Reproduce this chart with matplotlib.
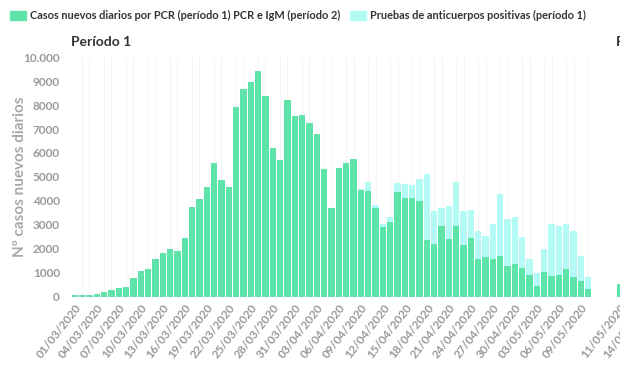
import matplotlib.pyplot as plt
import matplotlib.patches as mpatches
import datetime

plt.rcParams['font.family'] = ['Lato', 'DejaVu Sans']

# daily cases, period 1 (01/03/2020 .. 10/05/2020)
start = datetime.date(2020, 3, 1)
pcr_cases = [50, 50, 60, 100, 175, 270, 340, 410, 760, 1065,
             1150, 1580, 1820, 1970, 1915, 2460, 3730, 4090, 4590, 5570,
             4870, 4590, 7910, 8660, 8980, 9415, 8370, 6195, 5720, 8230,
             7545, 7600, 7250, 6780, 5330, 3700, 5370, 5595, 5735, 4465,
             4425, 3700, 2920, 3115, 4380, 4100, 4100, 4005, 2360, 2180,
             2960, 2390, 2960, 2150, 2430, 1570, 1640, 1570, 1690, 1275,
             1345, 1205, 885, 450, 1025, 870, 885, 1150, 800, 650,
             315]
# top of stacked bar (pcr + antibody tests), 0 where no antibody data
total_cases = [0] * 39 + [4510,
               4800, 3825, 3030, 3310, 4730, 4690, 4660, 4900, 5120, 3575,
               3685, 3800, 4800, 3590, 3615, 2740, 2545, 3030, 4270, 3240,
               3340, 2475, 1555, 995, 1985, 3020, 2960, 3030, 2750, 1705,
               830]
antibody = [max(t - p, 0) for t, p in zip(total_cases, pcr_cases)]
dates = [(start + datetime.timedelta(days=i)).strftime('%d/%m/%Y') for i in range(len(pcr_cases))]

# period 2 (only the first day is visible)
p2_cases = [520]
p2_labels = ['11/05/2020', '14/05/2020']

green = '#5ee3a8'
cyan = '#b5fbf5'
tick_col = '#9a9a9a'

fig = plt.figure(figsize=(6.2, 3.68), dpi=100)
bottom = 71.5 / 368
height = 239.2 / 368
ax = fig.add_axes([71 / 620, bottom, 521 / 620, height])

x = list(range(len(pcr_cases)))
ax.bar(x, pcr_cases, width=0.86, color=green, zorder=2)
ax.bar(x, antibody, bottom=pcr_cases, width=0.86, color=cyan, zorder=2)

ax.set_xlim(-0.5, len(pcr_cases) - 0.5)
ax.set_ylim(0, 10000)
ax.set_yticks(range(0, 10001, 1000))
ax.set_yticklabels([str(v) if v < 10000 else '10.000' for v in range(0, 10001, 1000)])
ax.set_xticks(x[::3])
ax.set_xticklabels(dates[::3], rotation=52, ha='right', va='top', rotation_mode='anchor')
ax.set_xticks(x, minor=True)
ax.grid(True, axis='x', which='minor', color='#f5f5f5', lw=0.8, zorder=0)
ax.tick_params(length=0, which='both', colors=tick_col, labelsize=8.5)
for lab in ax.get_xticklabels() + ax.get_yticklabels():
    lab.set_fontweight('bold')
ax.tick_params(axis='y', pad=8)
ax.tick_params(axis='x', pad=4)
for s in ax.spines.values():
    s.set_visible(False)
ax.set_ylabel('Nº casos nuevos diarios', color='#a8a8a8', fontsize=11, fontweight='bold')
ax.yaxis.set_label_coords(-0.085, 0.5)
ax.set_title('Período 1', loc='left', fontsize=10, fontweight='bold', color='#333333', pad=8)

# second facet, mostly out of frame
ax2 = fig.add_axes([616 / 620, bottom, 301 / 620, height])
ax2.bar(range(len(p2_cases)), p2_cases, width=0.86, color=green, zorder=2)
ax2.set_xlim(-0.5, 40.5)
ax2.set_ylim(0, 10000)
ax2.set_yticks([])
ax2.set_xticks([0, 3])
ax2.set_xticklabels(p2_labels, rotation=52, ha='right', va='top', rotation_mode='anchor')
ax2.tick_params(length=0, colors=tick_col, labelsize=8.5, pad=4)
for lab in ax2.get_xticklabels():
    lab.set_fontweight('bold')
for s in ax2.spines.values():
    s.set_visible(False)
ax2.set_title('Período 2', loc='left', fontsize=10, fontweight='bold', color='#333333', pad=8)

handles = [mpatches.Patch(color=green, label='Casos nuevos diarios por PCR (período 1) PCR e IgM (período 2)'),
           mpatches.Patch(color=cyan, label='Pruebas de anticuerpos positivas (período 1)')]
leg = fig.legend(handles=handles, loc='upper left', bbox_to_anchor=(0.0, 1.0), ncol=2, frameon=False,
                 fontsize=7.9, handlelength=1.5, handleheight=0.9, handletextpad=0.3, columnspacing=0.9)
for t in leg.get_texts():
    t.set_color('#333333')
    t.set_fontweight('bold')

fig.savefig('out.png', dpi=100)
